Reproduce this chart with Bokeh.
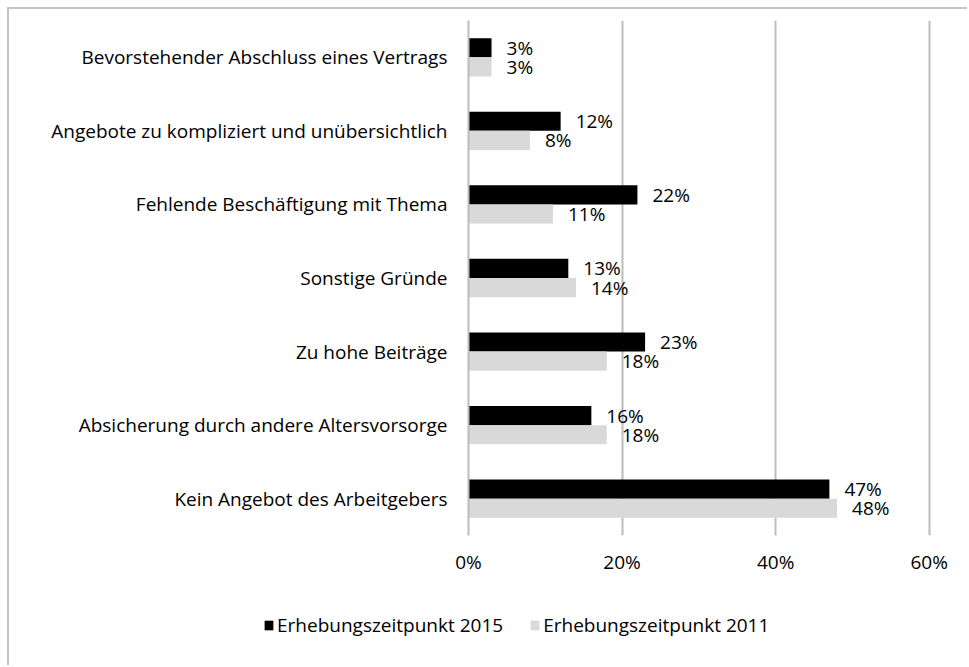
from bokeh.plotting import figure
from bokeh.layouts import column
from bokeh.models import (ColumnDataSource, Range1d, FactorRange, FixedTicker, Legend,
                          LegendItem, InlineStyleSheet)
from bokeh.transform import dodge
from bokeh.core.properties import value
from bokeh.embed import file_html
from bokeh.resources import INLINE

# Data (top-to-bottom order as shown)
categories = [
    "Bevorstehender Abschluss eines Vertrags",
    "Angebote zu kompliziert und unübersichtlich",
    "Fehlende Beschäftigung mit Thema",
    "Sonstige Gründe",
    "Zu hohe Beiträge",
    "Absicherung durch andere Altersvorsorge",
    "Kein Angebot des Arbeitgebers",
]
values_2015 = [3, 12, 22, 13, 23, 16, 47]
values_2011 = [3, 8, 11, 14, 18, 18, 48]
series_names = ["Erhebungszeitpunkt 2015", "Erhebungszeitpunkt 2011"]
tick_values = [0, 20, 40, 60]
tick_labels = ["0%", "20%", "40%", "60%"]
colors = ["#000000", "#d9d9d9"]

FONT = "Open Sans"
FS = "19px"
W = 960

cats_bottom_up = list(reversed(categories))
src = ColumnDataSource(dict(
    cat=categories,
    v15=values_2015,
    v11=values_2011,
    l15=[f"{v}%" for v in values_2015],
    l11=[f"{v}%" for v in values_2011],
))

p = figure(
    width=W, height=580,
    y_range=FactorRange(*cats_bottom_up, range_padding=0),
    x_range=Range1d(0, 60.3),
    output_backend="svg", toolbar_location=None,
    min_border_left=459, min_border_right=38, min_border_top=11, min_border_bottom=54,
)
p.frame_align = False
p.outline_line_color = None
p.background_fill_color = "white"
p.border_fill_color = "white"

BH = 0.26
p.hbar(y=dodge("cat", BH / 2, range=p.y_range), right="v15", left=0, height=BH,
       source=src, fill_color=colors[0], line_color=None)
p.hbar(y=dodge("cat", -BH / 2, range=p.y_range), right="v11", left=0, height=BH,
       source=src, fill_color=colors[1], line_color=None)

p.text(x="v15", y=dodge("cat", BH / 2, range=p.y_range), text="l15", source=src,
       x_offset=15, text_align="left", text_baseline="middle",
       text_font=value(FONT), text_font_size=FS, text_color="#000000")
p.text(x="v11", y=dodge("cat", -BH / 2, range=p.y_range), text="l11", source=src,
       x_offset=15, text_align="left", text_baseline="middle",
       text_font=value(FONT), text_font_size=FS, text_color="#000000")

# grid
p.ygrid.grid_line_color = None
p.xgrid.ticker = FixedTicker(ticks=tick_values)
p.xgrid.grid_line_color = "#bcbcbc"
p.xgrid.grid_line_width = 2

# x axis
p.xaxis.ticker = FixedTicker(ticks=tick_values)
p.xaxis.major_label_overrides = {t: l for t, l in zip(tick_values, tick_labels)}
p.xaxis.axis_line_color = None
p.xaxis.major_tick_line_color = None
p.xaxis.minor_tick_line_color = None
p.xaxis.major_label_standoff = 7
p.xaxis.major_label_text_font = FONT
p.xaxis.major_label_text_font_size = FS
p.xaxis.major_label_text_color = "#000000"

# y axis
p.yaxis.axis_line_color = "#bcbcbc"
p.yaxis.axis_line_width = 2
p.yaxis.major_tick_line_color = None
p.yaxis.minor_tick_line_color = None
p.yaxis.major_label_standoff = 15
p.yaxis.major_label_text_font = FONT
p.yaxis.major_label_text_font_size = FS
p.yaxis.major_label_text_color = "#000000"

# legend strip (separate small figure so the legend is not clipped)
leg = figure(
    width=W, height=78, x_range=Range1d(-200, -100),
    y_range=FactorRange(*cats_bottom_up),
    x_axis_type=None, y_axis_type=None,
    output_backend="svg", toolbar_location=None,
    min_border=0,
)
leg.frame_align = False
leg.outline_line_color = None
leg.grid.visible = False
lr15 = leg.hbar(y="cat", right="v15", left=0, height=0.2, source=src,
                fill_color=colors[0], line_color=None)
lr11 = leg.hbar(y="cat", right="v11", left=0, height=0.2, source=src,
                fill_color=colors[1], line_color=None)
legend = Legend(
    items=[LegendItem(label=series_names[0], renderers=[lr15]),
           LegendItem(label=series_names[1], renderers=[lr11])],
    orientation="horizontal", location=(254, 29),
    glyph_width=11, glyph_height=12, label_standoff=3, spacing=26,
    label_text_font=FONT, label_text_font_size=FS, label_text_color="#000000",
    border_line_color=None, background_fill_alpha=0,
    margin=0, padding=0,
)
leg.add_layout(legend, "center")

layout = column(p, leg, spacing=0, margin=(9, 0, 0, 9))
layout.stylesheets = [InlineStyleSheet(css=":host { box-shadow: -2px -2px 0 0 #c4c4c4; }")]

open("out.html", "w").write(file_html(layout, INLINE))
